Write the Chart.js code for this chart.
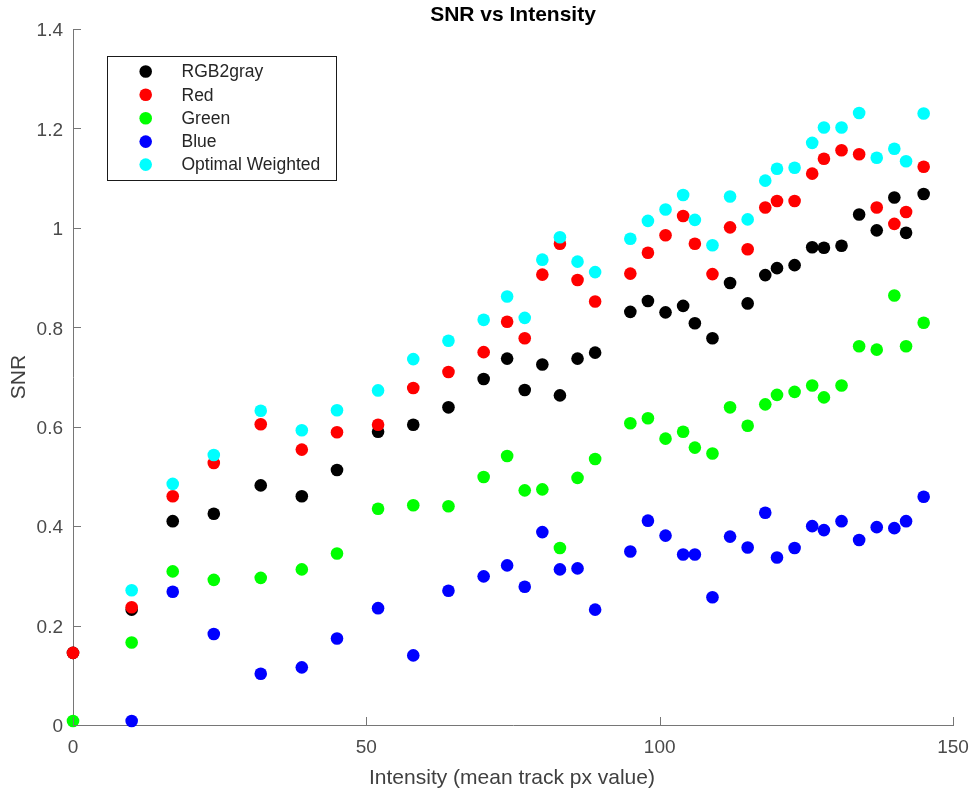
<!DOCTYPE html>
<html>
<head>
<meta charset="utf-8">
<script src="https://cdn.jsdelivr.net/npm/chart.js@4/dist/chart.umd.min.js"></script>
<style>
  html, body { margin: 0; padding: 0; background: #fff; }
  #wrap { width: 972px; height: 791px; }
</style>
</head>
<body>
<div id="wrap"><canvas id="c" width="972" height="791"></canvas></div>
<script>
// ---- data ----
const intensity = [0,10,17,24,32,39,45,52,58,64,70,74,77,80,83,86,89,95,98,101,104,106,109,112,115,118,120,123,126,128,131,134,137,140,142,145];
const rgb2gray = [0.145,0.232,0.410,0.425,0.482,0.460,0.513,0.590,0.604,0.639,0.696,0.737,0.674,0.725,0.663,0.737,0.749,0.831,0.853,0.830,0.843,0.808,0.778,0.889,0.848,0.905,0.919,0.925,0.961,0.960,0.964,1.027,0.995,1.061,0.990,1.068];
const red = [0.145,0.237,0.460,0.527,0.605,0.554,0.589,0.604,0.678,0.710,0.750,0.811,0.778,0.906,0.968,0.895,0.852,0.908,0.950,0.985,1.024,0.968,0.907,1.001,0.957,1.041,1.054,1.054,1.109,1.139,1.156,1.148,1.041,1.008,1.032,1.123];
const green = [0.008,0.166,0.309,0.292,0.296,0.313,0.345,0.435,0.442,0.440,0.499,0.541,0.472,0.474,0.356,0.497,0.535,0.607,0.617,0.576,0.590,0.558,0.546,0.639,0.602,0.645,0.664,0.670,0.683,0.659,0.683,0.762,0.755,0.864,0.762,0.809];
const blue = [null,0.008,0.268,0.183,0.103,0.116,0.174,0.235,0.140,0.270,0.299,0.321,0.278,0.388,0.313,0.315,0.232,0.349,0.411,0.381,0.343,0.343,0.257,0.379,0.357,0.427,0.337,0.356,0.400,0.392,0.410,0.372,0.398,0.396,0.410,0.459];
const optimalWeighted = [null,0.271,0.485,0.543,0.632,0.593,0.633,0.673,0.736,0.773,0.815,0.862,0.819,0.936,0.981,0.932,0.911,0.978,1.014,1.037,1.066,1.016,0.965,1.063,1.017,1.095,1.119,1.121,1.171,1.202,1.202,1.231,1.141,1.159,1.134,1.230];

const seriesNames = ['RGB2gray','Red','Green','Blue','Optimal Weighted'];
const xTickValues = [0,50,100,150];
const yTickValues = [0,0.2,0.4,0.6,0.8,1,1.2,1.4];
const chartTitle = 'SNR vs Intensity';
const xTitle = 'Intensity (mean track px value)';
const yTitle = 'SNR';

// ---- styling ----
const colors = ['#000000','#ff0000','#00ff00','#0000ff','#00ffff'];
const axisColor = '#767676';
const tickColor = '#4a4a4a';
const FONT = '"Liberation Sans", Arial, sans-serif';

function toPoints(ys) {
  const pts = [];
  ys.forEach((v, i) => { if (v !== null) pts.push({x: intensity[i], y: v}); });
  return pts;
}
const allSeries = [rgb2gray, red, green, blue, optimalWeighted];

const datasets = allSeries.map((s, i) => ({
  label: seriesNames[i],
  data: toPoints(s),
  backgroundColor: colors[i],
  borderColor: colors[i],
  borderWidth: 0,
  pointRadius: 6.3,
  pointHoverRadius: 6.3,
  showLine: false,
  clip: false,
  order: allSeries.length - i   // later series drawn on top
}));

const decorPlugin = {
  id: 'decor',
  afterDatasetsDraw(chart) {
    const ctx = chart.ctx;
    const ca = chart.chartArea;
    const xs = chart.scales.x, ys = chart.scales.y;
    ctx.save();
    // inward tick marks
    ctx.strokeStyle = axisColor;
    ctx.lineWidth = 1;
    ctx.beginPath();
    yTickValues.forEach(v => {
      const py = Math.round(ys.getPixelForValue(v)) + 0.5;
      ctx.moveTo(ca.left, py); ctx.lineTo(ca.left + 8, py);
    });
    xTickValues.forEach(v => {
      const px = Math.round(xs.getPixelForValue(v)) + 0.5;
      ctx.moveTo(px, ca.bottom); ctx.lineTo(px, ca.bottom - 8);
    });
    ctx.stroke();

    // title
    const cx = (ca.left + ca.right) / 2;
    ctx.fillStyle = '#000';
    ctx.font = 'bold 21px ' + FONT;
    ctx.textAlign = 'center';
    ctx.textBaseline = 'alphabetic';
    ctx.fillText(chartTitle, cx, 21);

    // axis titles
    ctx.fillStyle = '#404040';
    ctx.font = '21px ' + FONT;
    ctx.fillText(xTitle, cx - 1, 784);
    ctx.save();
    ctx.translate(25, (ca.top + ca.bottom) / 2);
    ctx.rotate(-Math.PI / 2);
    ctx.fillText(yTitle, 0, 0);
    ctx.restore();

    // legend box
    const lx = 107.5, ly = 56.5, lw = 229, lh = 124;
    ctx.fillStyle = '#fff';
    ctx.fillRect(lx, ly, lw, lh);
    ctx.strokeStyle = '#1a1a1a';
    ctx.strokeRect(lx, ly, lw, lh);
    const rowsY = [71.5, 94.8, 118.2, 141.6, 164.6];
    ctx.font = '17.5px ' + FONT;
    ctx.textAlign = 'left';
    ctx.textBaseline = 'middle';
    chart.data.datasets.forEach((ds, i) => {
      ctx.fillStyle = ds.backgroundColor;
      ctx.beginPath();
      ctx.arc(145.7, rowsY[i], 6.3, 0, Math.PI * 2);
      ctx.fill();
      ctx.fillStyle = '#262626';
      ctx.fillText(ds.label, 181.5, rowsY[i] + 1);
    });
    ctx.restore();
  }
};

new Chart(document.getElementById('c'), {
  type: 'scatter',
  data: { datasets },
  options: {
    responsive: false,
    devicePixelRatio: 1,
    animation: false,
    events: [],
    layout: { padding: { left: 0, right: 19, top: 29, bottom: 0 } },
    plugins: {
      legend: { display: false },
      tooltip: { enabled: false },
      title: { display: false }
    },
    scales: {
      x: {
        type: 'linear',
        min: 0, max: 150,
        afterBuildTicks: s => { s.ticks = xTickValues.map(v => ({value: v})); },
        afterFit: s => { s.height = 66; s.paddingLeft = 0; s.paddingRight = 0; },
        grid: { display: false, drawTicks: false },
        border: { display: true, color: axisColor, width: 1 },
        ticks: {
          padding: 11,
          color: tickColor,
          font: { family: FONT, size: 19 },
          maxRotation: 0,
          callback: v => String(v)
        }
      },
      y: {
        type: 'linear',
        min: 0, max: 1.4,
        afterBuildTicks: s => { s.ticks = yTickValues.map(v => ({value: v})); },
        afterFit: s => { s.width = 73; s.paddingTop = 0; s.paddingBottom = 0; },
        grid: { display: false, drawTicks: false },
        border: { display: true, color: axisColor, width: 1 },
        ticks: {
          padding: 10,
          labelOffset: 2,
          color: tickColor,
          font: { family: FONT, size: 19 },
          callback: v => String(Math.round(v * 10) / 10)
        }
      }
    }
  },
  plugins: [decorPlugin]
});
</script>
</body>
</html>
